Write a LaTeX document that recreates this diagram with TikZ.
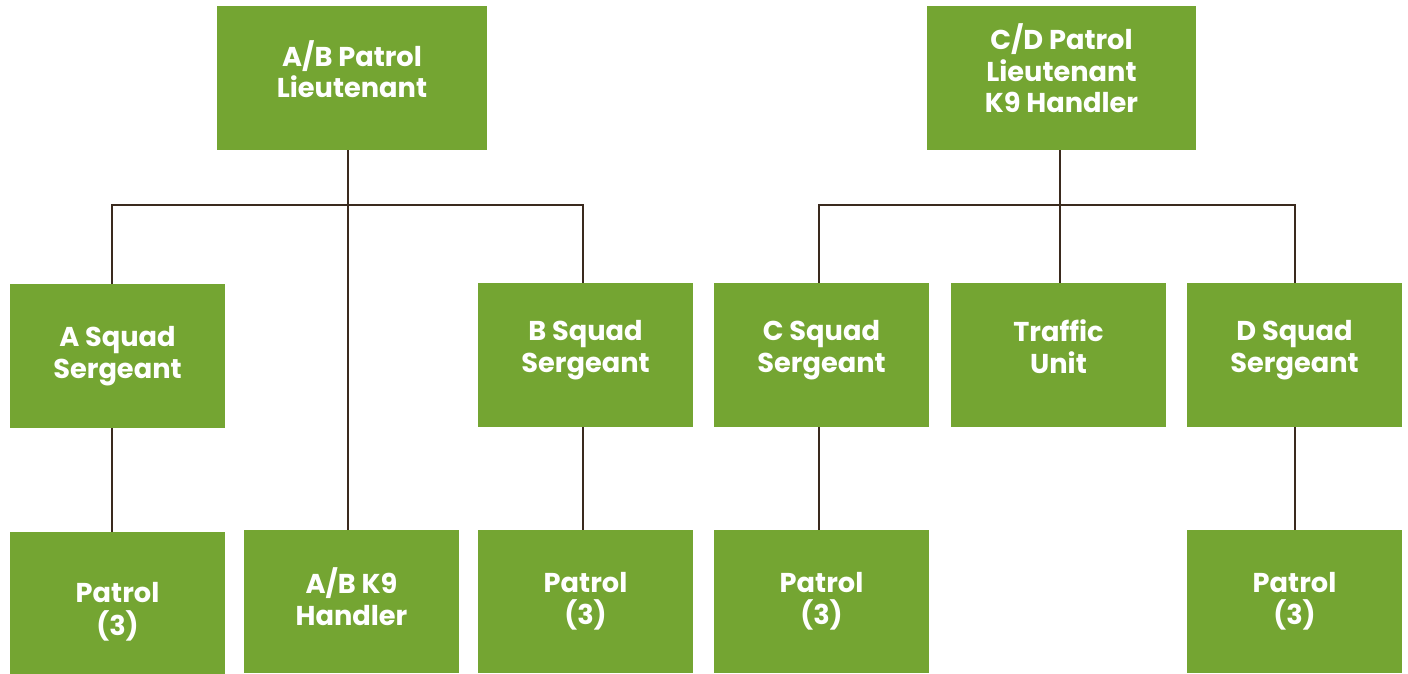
\documentclass[tikz,border=0pt]{standalone}
\usepackage{fontspec}
\setmainfont{Poppins}
\usetikzlibrary{positioning}
\definecolor{UnitGreen}{HTML}{74A532}
\definecolor{LinkBrown}{HTML}{3A2A1E}
\tikzset{
  unit/.style={fill=UnitGreen,text=white,align=center,inner sep=0pt,
    minimum height=2.88cm,minimum width=4.3cm,
    font=\bfseries\fontsize{15.5}{18}\selectfont},
  link/.style={LinkBrown,line width=1.6pt}
}
\begin{document}
\begin{tikzpicture}[x=1cm,y=1cm]

        \useasboundingbox (0,0) rectangle (28.16,13.48);

        % lieutenants
        \node[unit,minimum width=5.4cm] (ablt) at (7.04,11.92)
          {A/B Patrol\\Lieutenant\\[-7.8pt]};
        \node[unit,minimum width=5.38cm] (cdlt) at (21.23,11.92)
          {C/D Patrol\\Lieutenant\\K9 Handler\\[-6.7pt]};

        % sergeants
        \node[unit] (asgt) at (2.35,6.36) {A Squad\\Sergeant};
        \node[unit] (bsgt) at (11.71,6.38) {B Squad\\Sergeant\\[-8.5pt]};
        \node[unit] (csgt) at (16.43,6.38) {C Squad\\Sergeant\\[-8.5pt]};
        \node[unit] (traffic) at (21.17,6.38) {Traffic\\Unit\\[-8.5pt]};
        \node[unit] (dsgt) at (25.89,6.38) {D Squad\\Sergeant\\[-8.5pt]};

        % patrols
        \node[unit,minimum height=2.84cm] (apatrol) at (2.35,1.42)
          {\rule{0pt}{21.5pt}Patrol\\[1pt](3)};
        \node[unit,minimum height=2.86cm] (abk9) at (7.03,1.45)
          {A/B K9\\Handler\\[-12.3pt]};
        \node[unit,minimum height=2.86cm] (bpatrol) at (11.71,1.45)
          {Patrol\\(3)};
        \node[unit,minimum height=2.86cm] (cpatrol) at (16.43,1.45)
          {Patrol\\(3)};
        \node[unit,minimum height=2.86cm] (dpatrol) at (25.89,1.45)
          {Patrol\\(3)};

        \coordinate (abjoin) at (6.96,9.38);
        \coordinate (cdjoin) at (21.2,9.38);

        \draw[link] (ablt.south -| abjoin) -- (abk9.north -| abjoin);
        \draw[link] ([xshift=-0.11cm]asgt.north) |- (abjoin)
          -| ([xshift=-0.05cm]bsgt.north);
        \draw[link] (cdlt.south -| cdjoin) -- (traffic.north -| cdjoin);
        \draw[link] ([xshift=-0.05cm]csgt.north) |- (cdjoin)
          -| ([xshift=0.01cm]dsgt.north);

        \draw[link] ([xshift=-0.11cm]asgt.south) -- ([xshift=-0.11cm]apatrol.north);
        \draw[link] ([xshift=-0.05cm]bsgt.south) -- ([xshift=-0.05cm]bpatrol.north);
        \draw[link] ([xshift=-0.05cm]csgt.south) -- ([xshift=-0.05cm]cpatrol.north);
        \draw[link] ([xshift=0.01cm]dsgt.south) -- ([xshift=0.01cm]dpatrol.north);

      \end{tikzpicture}
\end{document}
